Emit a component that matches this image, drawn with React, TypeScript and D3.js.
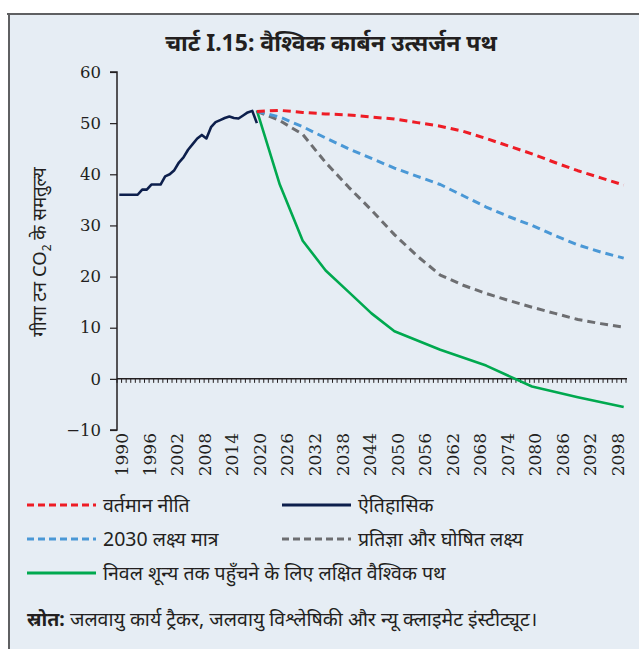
import React, { useEffect, useRef } from 'react';
import * as d3 from 'd3';

// years on the category axis
const years = d3.range(1990, 2101);
const tickYears = d3.range(1990, 2101, 6);

// historical emissions (Gt CO2e)
const histYears = [1990, 1991, 1992, 1993, 1994, 1995, 1996, 1997, 1998, 1999, 2000, 2001, 2002, 2003, 2004, 2005, 2006, 2007, 2008, 2009, 2010, 2011, 2012, 2013, 2014, 2015, 2016, 2017, 2018, 2019, 2020];
const histValues = [36, 36, 36, 36, 36, 37, 37, 38, 38, 38, 39.6, 40, 40.8, 42.3, 43.3, 44.8, 45.9, 47, 47.7, 47, 49.2, 50.2, 50.6, 51, 51.3, 51, 50.9, 51.5, 52.1, 52.4, 50];

// projections, every 5 years
const projYears = [2020, 2025, 2030, 2035, 2040, 2045, 2050, 2055, 2060, 2065, 2070, 2075, 2080, 2085, 2090, 2095, 2100];
const currentPolicy = [52.3, 52.5, 52.1, 51.8, 51.6, 51.2, 50.8, 50.1, 49.4, 48.4, 47, 45.5, 44, 42.3, 40.7, 39.3, 37.9];
const targets2030 = [52.3, 51.2, 49.3, 47.1, 45.0, 43.1, 41.2, 39.6, 38.0, 35.8, 33.6, 31.7, 30.0, 28.0, 26.2, 24.8, 23.6];
const pledges = [52.3, 50.5, 47.8, 42.3, 37.5, 33, 28.2, 24, 20.3, 18.3, 16.7, 15.3, 14.0, 12.8, 11.6, 10.8, 10.1];

// net zero pathway
const netZeroYears = [2020, 2025, 2030, 2035, 2040, 2045, 2050, 2060, 2070, 2080, 2090, 2100];
const netZero = [52.5, 38, 27, 21.2, 17, 12.8, 9.3, 5.7, 2.6, -1.5, -3.6, -5.5];

const yTicks = [60, 50, 40, 30, 20, 10, 0, -10];

const C = {
  red: '#ee1c25',
  blue: '#4a98d6',
  gray: '#6d6e71',
  green: '#00a94f',
  navy: '#0d1f4c',
  bg: '#e6edf4',
};

const devFont = "'Noto Sans', 'Noto Sans Devanagari', Lato, sans-serif";
const numFont = "'DejaVu Serif', serif";

const App = () => {
  const svgRef = useRef<SVGSVGElement>(null);

  useEffect(() => {
    if (!svgRef.current) return;
    const svg = d3.select(svgRef.current);
    svg.selectAll('*').remove();

    const width = 639;
    const height = 649;

    // panel background + border (top and left)
    svg.append('rect').attr('x', 8).attr('y', 14).attr('width', width - 8).attr('height', height - 14).attr('fill', C.bg);
    svg.append('line').attr('x1', 7).attr('x2', width).attr('y1', 14).attr('y2', 14).attr('stroke', '#5f6062').attr('stroke-width', 2);
    svg.append('line').attr('x1', 9).attr('x2', 9).attr('y1', 13).attr('y2', height).attr('stroke', '#5f6062').attr('stroke-width', 2);

    // title
    svg.append('text')
      .attr('x', 331)
      .attr('y', 51)
      .attr('text-anchor', 'middle')
      .attr('font-family', devFont)
      .attr('font-weight', 'bold')
      .attr('font-size', 23)
      .attr('fill', '#231f20')
      .text('चार्ट I.15: वैश्विक कार्बन उत्सर्जन पथ');

    const x = d3.scaleBand<number>().domain(years).range([117, 626]);
    const y = d3.scaleLinear().domain([-10, 60]).range([430, 72]);
    const cx = (yr: number) => (x(yr) as number) + x.bandwidth() / 2;

    // y axis
    const yAxis = svg.append('g').attr('transform', 'translate(117,0)')
      .call(d3.axisLeft(y).tickValues(yTicks).tickSize(7).tickPadding(9).tickFormat(d3.format('d')));
    yAxis.select('.domain').attr('stroke', '#231f20').attr('stroke-width', 1.5).attr('d', `M-7,${y(60)}H0V${y(-10)}H-7`);
    yAxis.selectAll('.tick line').attr('stroke', '#231f20').attr('stroke-width', 1.2);
    yAxis.selectAll('.tick text').attr('font-family', numFont).attr('font-size', 16.5).attr('fill', '#231f20');

    // category axis along zero
    const y0 = y(0);
    svg.append('line').attr('x1', 117).attr('x2', 627).attr('y1', y0).attr('y2', y0).attr('stroke', '#231f20').attr('stroke-width', 1.5);
    const bounds = years.map(yr => x(yr) as number).concat([x.range()[1]]);
    svg.append('g').selectAll('line').data(bounds).enter().append('line')
      .attr('x1', d => d).attr('x2', d => d)
      .attr('y1', y0).attr('y2', y0 + 4)
      .attr('stroke', '#231f20').attr('stroke-width', 1);

    // rotated year labels
    svg.append('g').selectAll('text').data(tickYears).enter().append('text')
      .attr('transform', d => `translate(${cx(d) + 3},${433}) rotate(-90)`)
      .attr('text-anchor', 'end')
      .attr('dy', '0.36em')
      .attr('font-family', numFont)
      .attr('font-size', 17)
      .attr('fill', '#231f20')
      .text(d => d);

    // y axis title
    svg.append('text')
      .attr('transform', `translate(46,${(y(60) + y(-10)) / 2 + 1}) rotate(-90)`)
      .attr('text-anchor', 'middle')
      .attr('font-family', devFont)
      .attr('font-size', 18.5)
      .attr('fill', '#231f20')
      .call(t => {
        t.append('tspan').text('गीगा टन CO');
        t.append('tspan').attr('font-size', 12).attr('dy', 5).text('2');
        t.append('tspan').attr('dy', -5).text(' के समतुल्य');
      });

    const line = d3.line<[number, number]>().x(d => cx(d[0])).y(d => y(d[1]));
    const series = [
      { yrs: histYears, vals: histValues, color: C.navy, dash: null, w: 2.6 },
      { yrs: netZeroYears, vals: netZero, color: C.green, dash: null, w: 2.6 },
      { yrs: projYears, vals: pledges, color: C.gray, dash: '8,5', w: 3 },
      { yrs: projYears, vals: targets2030, color: C.blue, dash: '8,5', w: 3 },
      { yrs: projYears, vals: currentPolicy, color: C.red, dash: '8,5', w: 3 },
    ];
    series.forEach(s => {
      svg.append('path')
        .datum(s.yrs.map((yr, i) => [yr, s.vals[i]] as [number, number]))
        .attr('d', line)
        .attr('fill', 'none')
        .attr('stroke', s.color)
        .attr('stroke-width', s.w)
        .attr('stroke-dasharray', s.dash)
        .attr('stroke-linejoin', 'round');
    });

    // legend
    const legend = [
      { label: 'वर्तमान नीति', color: C.red, dash: '7,4', x: 27, y: 505 },
      { label: 'ऐतिहासिक', color: C.navy, dash: null, x: 282, y: 505 },
      { label: '2030 लक्ष्य मात्र', color: C.blue, dash: '7,4', x: 27, y: 539 },
      { label: 'प्रतिज्ञा और घोषित लक्ष्य', color: C.gray, dash: '7,4', x: 282, y: 539 },
      { label: 'निवल शून्य तक पहुँचने के लिए लक्षित वैश्विक पथ', color: C.green, dash: null, x: 27, y: 573 },
    ];
    const lg = svg.append('g').selectAll('g').data(legend).enter().append('g')
      .attr('transform', d => `translate(${d.x},${d.y})`);
    lg.append('line')
      .attr('x1', 0).attr('x2', 69).attr('y1', 0).attr('y2', 0)
      .attr('stroke', d => d.color)
      .attr('stroke-width', 3)
      .attr('stroke-dasharray', d => d.dash);
    lg.append('text')
      .attr('x', 76)
      .attr('dy', '0.35em')
      .attr('font-family', devFont)
      .attr('font-size', 19.5)
      .attr('fill', '#231f20')
      .text(d => d.label);

    // source
    const src = svg.append('text')
      .attr('x', 27)
      .attr('y', 626)
      .attr('font-family', devFont)
      .attr('font-size', 19.5)
      .attr('fill', '#231f20');
    src.append('tspan').attr('font-weight', 'bold').text('स्रोत:');
    src.append('tspan').text(' जलवायु कार्य ट्रैकर, जलवायु विश्लेषिकी और न्यू क्लाइमेट इंस्टीट्यूट।');
  }, []);

  return (
    <div style={{ position: 'absolute', left: 0, top: 0 }}>
      <svg ref={svgRef} width={639} height={649} style={{ display: 'block' }}></svg>
    </div>
  );
};

export default App;
